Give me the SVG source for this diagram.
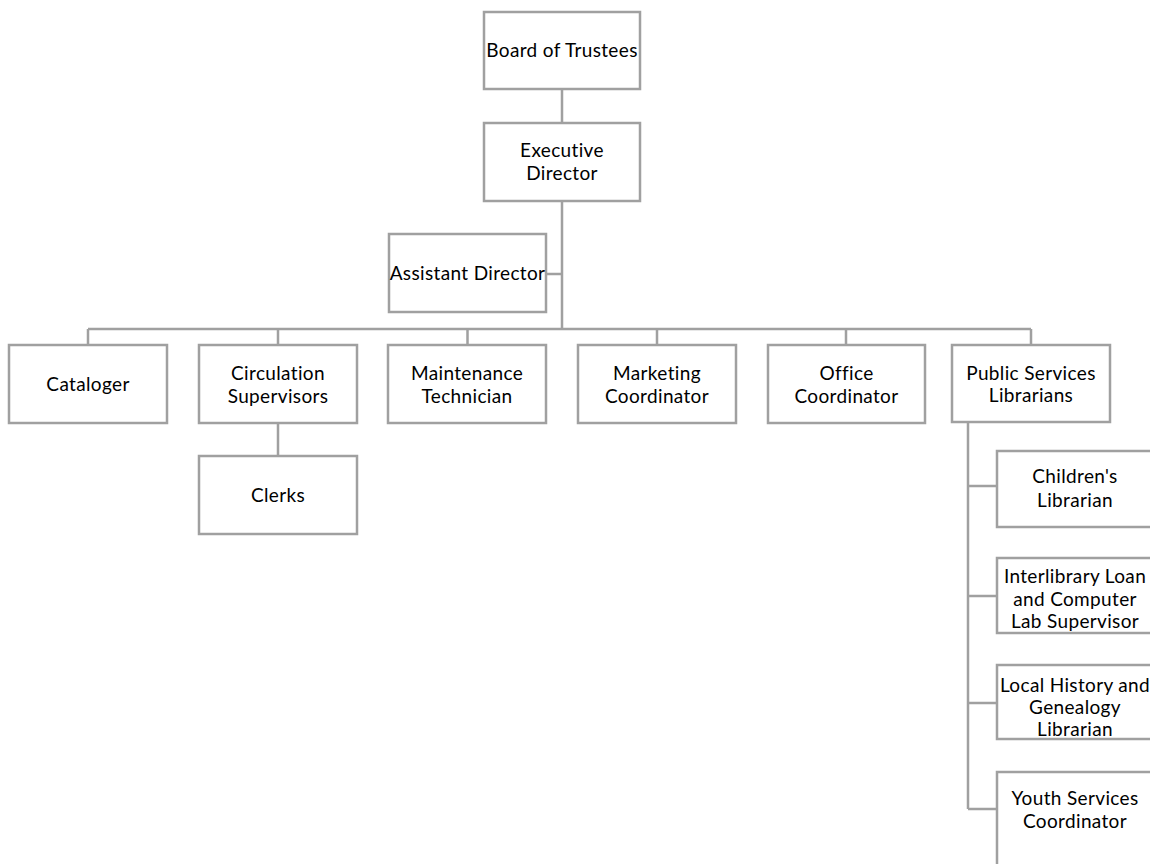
<svg xmlns="http://www.w3.org/2000/svg" width="1150" height="864" viewBox="0 0 1150 864">
<style>
.box{fill:#ffffff;stroke:#a0a0a0;stroke-width:2.5}
.ln{fill:none;stroke:#a0a0a0;stroke-width:2.5}
text{font-family:Lato,"Liberation Sans",sans-serif;font-size:19px;letter-spacing:0.35px;fill:#000;text-anchor:middle}
</style>
<rect width="1150" height="864" fill="#ffffff"/>
<g id="connectors">
<path class="ln" d="M562 89V123M562 201V329M546 274H562M88 329H1031M88 329V345M278 329V345M467.5 329V345M657 329V345M846 329V345M1031 329V345M278 423V456M968 423V809M968 486H997M968 596H997M968 703H997M968 809H997"/>
</g>
<g id="board"><rect class="box" x="484" y="12" width="156" height="77"/><text x="562" y="57">Board of Trustees</text></g>
<g id="exec"><rect class="box" x="484" y="123" width="156" height="78"/><text x="562" y="157">Executive</text><text x="562" y="180">Director</text></g>
<g id="assistant"><rect class="box" x="389" y="234" width="157" height="78"/><text x="467.5" y="280">Assistant Director</text></g>
<g id="cataloger"><rect class="box" x="9" y="345" width="158" height="78"/><text x="88" y="391">Cataloger</text></g>
<g id="circulation"><rect class="box" x="199" y="345" width="158" height="78"/><text x="278" y="380">Circulation</text><text x="278" y="403">Supervisors</text></g>
<g id="clerks"><rect class="box" x="199" y="456" width="158" height="78"/><text x="278" y="502">Clerks</text></g>
<g id="maintenance"><rect class="box" x="388" y="345" width="158" height="78"/><text x="467" y="380">Maintenance</text><text x="467" y="403">Technician</text></g>
<g id="marketing"><rect class="box" x="578" y="345" width="158" height="78"/><text x="657" y="380">Marketing</text><text x="657" y="403">Coordinator</text></g>
<g id="office"><rect class="box" x="768" y="345" width="157" height="78"/><text x="846.5" y="380">Office</text><text x="846.5" y="403">Coordinator</text></g>
<g id="public"><rect class="box" x="952" y="345" width="158" height="77"/><text x="1031" y="380">Public Services</text><text x="1031" y="402">Librarians</text></g>
<g id="children"><rect class="box" x="997" y="451" width="158" height="76"/><text x="1075" y="483">Children's</text><text x="1075" y="507">Librarian</text></g>
<g id="interlibrary"><rect class="box" x="997" y="558" width="158" height="75"/><text x="1075" y="583">Interlibrary Loan</text><text x="1075" y="606">and Computer</text><text x="1075" y="628">Lab Supervisor</text></g>
<g id="localhistory"><rect class="box" x="997" y="665" width="158" height="74"/><text x="1075" y="692">Local History and</text><text x="1075" y="714">Genealogy</text><text x="1075" y="736">Librarian</text></g>
<g id="youth"><rect class="box" x="997" y="772" width="158" height="100"/><text x="1075" y="805">Youth Services</text><text x="1075" y="828">Coordinator</text></g>
</svg>
